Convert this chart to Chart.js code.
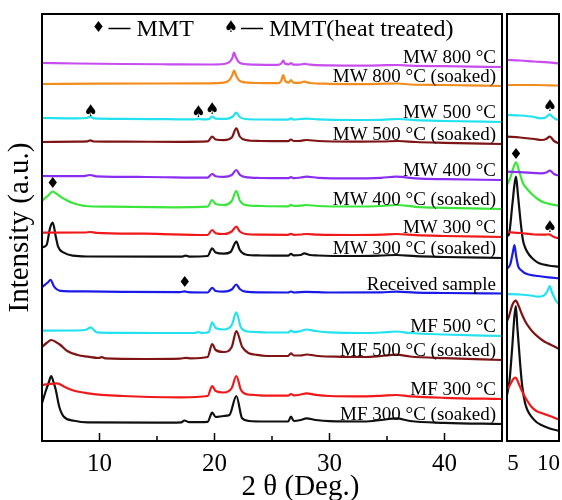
<!DOCTYPE html>
<html>
<head>
<meta charset="utf-8">
<script src="https://cdn.jsdelivr.net/npm/chart.js@4"></script>
<style>
  html, body { margin: 0; padding: 0; background: #fff; }
  #wrap { position: relative; width: 562px; height: 500px; }
  #wrap canvas { position: absolute; left: 0; top: 0; }
</style>
</head>
<body>
<div id="wrap">
  <canvas id="xrdMain" width="562" height="500"></canvas>
  <canvas id="xrdZoom" width="562" height="500"></canvas>
</div>
<script>
// sample names, top of the stack first
const samples = ['MW 800 °C', 'MW 800 °C (soaked)', 'MW 500 °C', 'MW 500 °C (soaked)',
  'MW 400 °C', 'MW 400 °C (soaked)', 'MW 300 °C', 'MW 300 °C (soaked)', 'Received sample',
  'MF 500 °C', 'MF 500 °C (soaked)', 'MF 300 °C', 'MF 300 °C (soaked)'];
const colors = ['#c84cf0', '#f28c1c', '#22e2f0', '#7e1414', '#8a2cf2', '#3ae63a', '#f01818',
  '#101010', '#1a1ae8', '#22e2f0', '#7e1414', '#f01818', '#101010'];

// vertical shift of each pattern in the stack (a.u.)
const offsets = [374, 355, 319, 297, 261, 232, 204, 183, 147.5, 105, 81, 42, 17];

// full scans: [2θ, intensity]
const mw800 = [[5,4],[8,3.5],[12,3],[16,2.7],[19.5,2.5],[20.8,3],[21.3,5],[21.55,9],[21.7,14.3],[21.85,10],[22.1,5],[22.6,3],[23.5,2.4],[25.5,2.2],[25.8,3.5],[25.98,6.3],[26.15,3.2],[26.45,2.6],[26.65,3.9],[26.85,2.4],[27.4,2.4],[27.8,3.2],[28.3,2.3],[30,1.6],[33,1.4],[35,1.8],[36,2],[37,1.3],[40,0.8],[45,0]];
const mw800s = [[5,2],[10,2.3],[15,2.5],[19.5,2.7],[20.8,3.3],[21.3,6],[21.55,11],[21.7,15.3],[21.9,10],[22.1,6],[22.5,3.8],[23.5,3],[25.5,2.8],[25.8,5],[25.98,11],[26.15,5],[26.45,3.4],[26.65,6],[26.85,3.4],[27.4,3.2],[27.8,4.3],[28.3,3],[30,2.2],[33,1.8],[35,2.3],[36,2.5],[37,1.5],[40,1],[45,0]];
const mw500 = [[5,4],[8,3.6],[8.9,4],[9.2,5.3],[9.5,3.7],[12,3.2],[16,2.8],[18.3,2.6],[18.6,3.4],[18.9,2.6],[19.5,2.8],[19.8,5.3],[20.1,3.4],[21,3.2],[21.6,5.5],[21.9,9.3],[22.2,5],[22.7,3],[24,2.5],[26.4,2.4],[26.65,3.6],[26.9,2.4],[27.5,3],[28,3.4],[29,2.6],[32,2],[34.5,2.2],[36,3],[37.5,1.8],[40,1],[45,0]];
const mw500s = [[5,2],[8,2.4],[8.9,2.6],[9.2,3.6],[9.5,2.5],[12,2.3],[17,2.2],[19.4,2.6],[19.8,7.3],[20.1,4.5],[20.8,3.8],[21.5,6.5],[21.9,15.7],[22.2,7.5],[22.7,4],[24,3],[26.4,2.8],[26.65,4.5],[26.9,3],[27.5,3.2],[28,4],[29,3],[32,2.4],[34.5,2.5],[36,3],[37.5,2],[40,1.2],[45,0]];
const mw400 = [[5,4],[8.5,3.8],[9.2,5],[9.7,3.7],[14,3],[19.4,2.4],[19.8,6],[20.1,3.8],[20.8,3.2],[21.5,5],[21.9,10],[22.2,5.2],[22.7,2.8],[24,2],[26.4,1.8],[26.65,2.8],[26.9,1.8],[27.5,2.5],[28,3.3],[29,2.2],[32,1.6],[34.5,2.2],[35.8,3.3],[37.5,1.6],[40,0.8],[45,0]];
const mw400s = [[5,8.3],[5.5,13],[5.93,17.3],[6.3,15],[6.6,12.3],[7.1,9],[7.6,6.3],[8.2,4.3],[8.8,3],[10.8,2.3],[16.6,1.7],[19.4,2.3],[19.8,9],[20.1,5],[20.8,4],[21.5,8],[21.9,18],[22.2,8.5],[22.7,4],[24,3],[26.4,2.7],[26.65,4.2],[26.9,3],[27.5,3.3],[28,4],[29,3],[32,2.5],[34.5,3],[35.8,4],[37.5,2.2],[40,1.2],[45,0]];
const mw300 = [[5,4.3],[8.7,4.5],[9.2,5],[9.7,4.2],[14,3.3],[19.4,2],[19.8,7],[20.1,3.8],[20.8,3],[21.5,5.5],[21.9,10.3],[22.2,5.5],[22.7,3],[24,2.4],[26.4,2.2],[26.65,3.2],[26.9,2.2],[27.5,2.5],[28,3],[29,2.3],[32,2],[34.5,2.3],[35.8,3],[37.5,1.8],[40,1],[45,0]];
const mw300s = [[5,10.7],[5.4,13],[5.7,30],[5.93,35.3],[6.2,21.3],[6.4,11.3],[6.9,5.3],[7.7,2.3],[9,1.5],[15,1.3],[17.2,1.4],[17.5,2.4],[17.8,1.4],[19.4,2],[19.8,9.7],[20.1,5.5],[20.8,4.3],[21.4,6],[21.9,16.3],[22.2,8],[22.7,3.5],[24,2.5],[26.4,2.3],[26.65,4.2],[26.9,2.7],[27.5,3],[27.8,4.7],[28.3,3],[29,2.5],[32,2],[34.5,2.5],[35.8,3],[37.5,1.8],[40,1],[45,0]];
const received = [[5,6.3],[5.5,11],[5.75,13.7],[6,8],[6.2,5],[6.6,2.6],[7.5,2.2],[12,1.7],[17,1.4],[17.4,2.2],[17.7,1.3],[19.4,1],[19.8,5.7],[20.1,2.5],[20.8,1.8],[21.5,4],[21.9,9],[22.2,4.5],[22.7,1.8],[24,1.2],[26.4,1],[26.65,2],[26.9,1],[28,1.6],[30,1],[34.5,1.2],[35.8,1.8],[37.5,0.8],[40,0.5],[45,0]];
const mf500 = [[5,5.3],[8,5.5],[8.9,6.5],[9.23,8.7],[9.5,6],[9.8,3.6],[11,3.2],[15,3],[18.3,3],[18.6,4],[18.9,3],[19.5,4],[19.8,13.7],[20.1,8],[20.8,6.5],[21.5,11],[21.9,23.7],[22.3,8.5],[22.9,4.5],[23.5,4],[24.5,3.5],[26.4,3.5],[26.65,5.3],[26.9,3.8],[27.5,5],[28,6.5],[28.8,5],[30,3.6],[33,3],[34.5,3.5],[35.8,4.5],[37,3],[40,1.5],[45,0]];
const mf500s = [[5,13],[5.4,17],[5.8,20],[6.2,18],[6.6,15],[7.2,9],[8.1,5],[9,3.3],[9.9,2],[10.2,2.8],[10.5,1.6],[14,1],[17,1.3],[17.5,2.2],[18,1.7],[19.4,3],[19.8,16],[20.1,10],[20.8,8],[21.5,13],[21.9,29],[22.4,13.3],[23,6.7],[23.5,5.5],[24.5,4],[26.4,4],[26.65,6.7],[26.9,4.5],[27.5,4.5],[28,5.5],[29,4],[31,3.2],[33,3],[34.5,4],[35.8,5.3],[37,3.5],[40,1.8],[45,0]];
const mf300 = [[5,14],[5.6,15],[6.3,15.7],[7,12],[7.6,9],[9,5.7],[12,3],[17.1,1.7],[19.4,3],[19.8,13],[20.1,8],[20.8,6.5],[21.5,11],[21.9,23],[22.3,9],[22.9,4.5],[23.5,4],[24.5,3.3],[26.4,3.3],[26.65,5],[26.9,3.6],[27.5,4.5],[28,5.7],[28.8,4.2],[30,3],[33,2.6],[34.5,3.2],[35.8,4],[37,2.7],[40,1.2],[45,0]];
const mf300s = [[5,20.7],[5.3,32],[5.6,42],[5.8,48],[6.0,42],[6.2,34],[6.5,17.3],[6.9,7.3],[7.8,3.3],[9,1.6],[15,1.3],[17.1,1.6],[17.4,3.5],[17.8,1.8],[19.4,2.2],[19.8,11.3],[20.1,7],[20.8,8],[21.3,9],[21.9,28],[22.4,5.7],[23,3],[24.5,2.5],[26.4,2.5],[26.65,7.3],[26.9,3],[27.5,4],[28,5.7],[28.8,4],[30,2.8],[33,2.5],[34.5,4],[35.8,5.7],[37,3],[40,1.2],[45,0]];

// low-angle region, own scaling
const zoomOffsets = [377.5, 355.5, 321, 297.5, 265, 235, 202.5, 174, 162.5, 137, 92, 21.5, 10];
const zMw800 = [[4.15,3.5],[6,3],[8,2],[10,1.2],[11.5,0]];
const zMw800s = [[4.15,0.5],[8,0.5],[11.5,0]];
const zMw500 = [[4.15,5],[6,4.5],[8,3],[8.8,1.7],[9.6,2.5],[10.2,5.7],[10.6,3],[11,1],[11.5,0]];
const zMw500s = [[4.15,6.8],[6,6],[8,4.5],[9,3.5],[9.7,4.5],[10.2,6.8],[10.8,2.5],[11.5,0]];
const zMw400 = [[4.15,4.3],[6,3.8],[9,2.7],[9.7,3.5],[10.2,5.3],[10.8,2],[11.5,0.3]];
const zMw400s = [[4.15,21],[4.6,28],[5.0,37],[5.42,43.7],[5.9,34],[6.4,23],[7,17],[7.8,11],[8.5,7],[9.2,4],[10.5,1.5],[11.5,0.3]];
const zMw300 = [[4.15,6.5],[6,5.5],[8,4],[9.5,3.8],[10.1,4.2],[10.8,1.5],[11.5,0]];
const zMw300s = [[4.15,31],[4.4,32],[4.9,62],[5.2,82],[5.42,90.3],[5.7,72],[6.0,50.3],[6.4,27],[6.8,18],[7.3,12],[8,7],[8.7,3.7],[10,1.5],[11.5,0.3]];
const zReceived = [[4.15,10],[4.6,14],[5.0,27],[5.2,33.5],[5.45,22],[5.75,11.8],[6.2,8],[6.7,5.2],[7.5,3.5],[8.5,2.5],[10,1.2],[11.5,0.2]];
const zMf500 = [[4.15,10],[6,9.5],[7.5,8.5],[8.5,7.3],[9.2,8],[9.6,10],[10.0,15],[10.2,18],[10.5,12],[10.8,7],[11.1,3],[11.5,0]];
const zMf500s = [[4.15,28],[4.4,32],[4.9,44],[5.4,48.3],[5.8,43],[6.2,35.7],[6.7,28],[7.2,22.3],[7.8,17],[8.5,12.3],[9.2,8.5],[9.9,5.7],[10.7,3],[11.5,0]];
const zMf300 = [[4.15,29.5],[4.6,35],[5.0,40],[5.35,41.8],[5.8,36],[6.2,29.5],[6.9,20],[7.6,12.8],[8.3,8.5],[9,6.5],[10,4],[11.5,0]];
const zMf300s = [[4.15,36],[4.5,50],[4.9,85],[5.2,115],[5.4,125],[5.6,105],[6.0,68],[6.3,45],[6.7,28],[7.1,20],[7.6,14.3],[8.3,9],[9,6],[10,3],[11.5,0]];

const fullScans = [mw800, mw800s, mw500, mw500s, mw400, mw400s, mw300, mw300s, received, mf500, mf500s, mf300, mf300s];
const lowAngle = [zMw800, zMw800s, zMw500, zMw500s, zMw400, zMw400s, zMw300, zMw300s, zReceived, zMf500, zMf500s, zMf300, zMf300s];

const xTicks = [10, 20, 30, 40];
const xMinorTicks = [15, 25, 35];
const zoomTicks = [5, 10];

// phase markers: symbol, 2θ, height
const DIAMOND = '\u2666', SPADE = '\u2660';
const peakMarks = [[DIAMOND, 5.93, 256.7], [DIAMOND, 17.4, 158], [SPADE, 9.23, 329.3], [SPADE, 18.6, 327.7], [SPADE, 19.8, 331]];
const zoomMarks = [[DIAMOND, 5.42, 286], [SPADE, 10.2, 334.3], [SPADE, 10.2, 213]];

const SERIF = '"Liberation Serif", "Times New Roman", serif';
const SYMBOL = '"DejaVu Sans", sans-serif';
Chart.defaults.font.family = SERIF;
Chart.defaults.color = '#000';

function stack(list, offs) {
  return list.map((pts, i) => ({
    label: samples[i],
    data: pts.map(([x, y]) => ({ x: x, y: y + offs[i] })),
    borderColor: colors[i],
    borderWidth: 2.2,
    pointRadius: 0,
    cubicInterpolationMode: 'monotone',
    fill: false
  }));
}

const symFont = s => (s === SPADE ? '16px ' : '15px ') + SYMBOL;

// frame, inward ticks, symbols and sample names
const decor = {
  id: 'decor',
  afterDatasetsDraw(chart, args, opts) {
    const { ctx, chartArea: a } = chart;
    const x = chart.scales.x, y = chart.scales.y;
    ctx.save();
    ctx.strokeStyle = '#000';
    ctx.lineWidth = 1.5;
    const tick = (v, len) => {
      const px = x.getPixelForValue(v);
      ctx.beginPath();
      ctx.moveTo(px, a.bottom);
      ctx.lineTo(px, a.bottom - len);
      ctx.stroke();
    };
    (opts.major || []).forEach(v => tick(v, 8));
    (opts.minor || []).forEach(v => tick(v, 5));
    ctx.lineWidth = 2;
    ctx.strokeRect(a.left, a.top, a.width, a.height);

    ctx.fillStyle = '#000';
    ctx.textAlign = 'center';
    ctx.textBaseline = 'middle';
    (opts.marks || []).forEach(([s, t, v]) => {
      ctx.font = symFont(s);
      ctx.fillText(s, x.getPixelForValue(t), y.getPixelForValue(v));
    });

    if (opts.names) {
      ctx.font = '19px ' + SERIF;
      ctx.textAlign = 'right';
      ctx.textBaseline = 'alphabetic';
      samples.forEach((n, i) => ctx.fillText(n, a.right - 6, y.getPixelForValue(offsets[i]) - 4));

      // key
      const keyY = a.top + 14;
      const key = (sym, sx, text) => {
        ctx.font = symFont(sym);
        ctx.textAlign = 'center';
        ctx.textBaseline = 'middle';
        ctx.fillText(sym, sx, keyY);
        ctx.lineWidth = 1.5;
        ctx.beginPath();
        ctx.moveTo(sx + 10, keyY + 0.5);
        ctx.lineTo(sx + 32, keyY + 0.5);
        ctx.stroke();
        ctx.font = '24px ' + SERIF;
        ctx.textAlign = 'left';
        ctx.textBaseline = 'alphabetic';
        ctx.fillText(text, sx + 38, keyY + 8);
      };
      key(DIAMOND, a.left + 56.5, 'MMT');
      key(SPADE, a.left + 189, 'MMT(heat treated)');

      // shared 2θ title, centred under both panels
      ctx.font = '29px ' + SERIF;
      ctx.textAlign = 'center';
      ctx.textBaseline = 'middle';
      ctx.fillText('2 θ (Deg.)', (a.left + chart.width - 3) / 2, 487);
    }
    ctx.restore();
  }
};

const fixedTicks = vals => scale => { scale.ticks = vals.map(v => ({ value: v })); };
const fitX = s => { s.height = 59; s.paddingLeft = 0; s.paddingRight = 0; };

new Chart(document.getElementById('xrdMain'), {
  type: 'line',
  data: { datasets: stack(fullScans, offsets) },
  plugins: [decor],
  options: {
    responsive: false,
    animation: false,
    layout: { padding: { top: 14, right: 60, bottom: 0, left: 0 } },
    plugins: {
      legend: { display: false },
      tooltip: { enabled: false },
      decor: { major: xTicks, minor: xMinorTicks, marks: peakMarks, names: true }
    },
    scales: {
      x: {
        type: 'linear', min: 5, max: 45,
        afterBuildTicks: fixedTicks(xTicks),
        afterFit: fitX,
        grid: { display: false },
        border: { display: false },
        ticks: { font: { size: 25 }, padding: 0, maxRotation: 0 }
      },
      y: {
        min: 0, max: 427,
        afterFit: s => { s.width = 42; },
        grid: { display: false },
        border: { display: false },
        ticks: { display: false },
        title: { display: true, text: 'Intensity (a.u.)', font: { size: 29, lineHeight: 1.2 }, padding: { top: 3, bottom: 0 } }
      }
    }
  }
});

new Chart(document.getElementById('xrdZoom'), {
  type: 'line',
  data: { datasets: stack(lowAngle, zoomOffsets) },
  plugins: [decor],
  options: {
    responsive: false,
    animation: false,
    layout: { padding: { top: 14, right: 3, bottom: 0, left: 507 } },
    plugins: {
      legend: { display: false },
      tooltip: { enabled: false },
      decor: { marks: zoomMarks }
    },
    scales: {
      x: {
        type: 'linear', min: 4.15, max: 11.5,
        afterBuildTicks: fixedTicks(zoomTicks),
        afterFit: fitX,
        grid: { display: false },
        border: { display: false },
        ticks: { font: { size: 23 }, padding: 1, maxRotation: 0 }
      },
      y: { display: false, min: 0, max: 427 }
    }
  }
});
</script>
</body>
</html>
